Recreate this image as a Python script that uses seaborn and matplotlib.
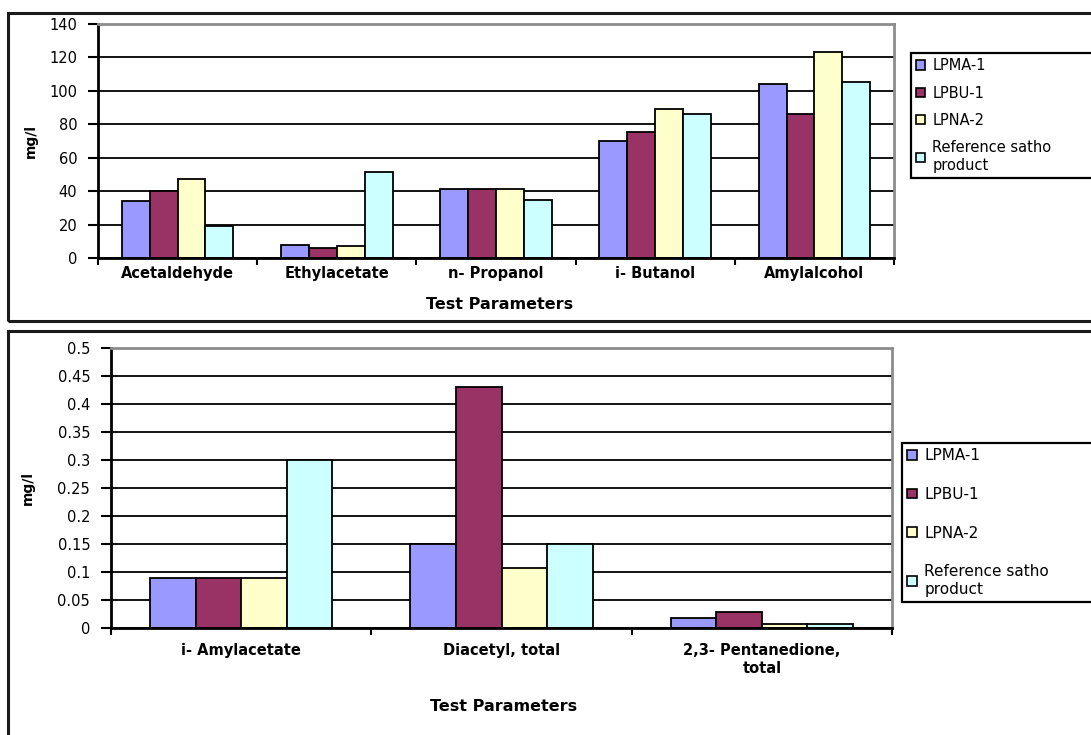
import numpy as np
import pandas as pd
import matplotlib
matplotlib.use("Agg")
import matplotlib.pyplot as plt
from matplotlib.patches import Rectangle
from matplotlib.ticker import FuncFormatter
import seaborn as sns

# Samples (legend entries) and their fill colours
samples = ["LPMA-1", "LPBU-1", "LPNA-2", "Reference satho\nproduct"]
colors = ["#9999FF", "#993366", "#FFFFCC", "#CCFFFF"]

# Upper panel: major volatile compounds (mg/l)
major_params = ["Acetaldehyde", "Ethylacetate", "n- Propanol", "i- Butanol", "Amylalcohol"]
lpma1_major = [34, 7.5, 41, 70, 104]
lpbu1_major = [40, 6, 41, 75.5, 86]
lpna2_major = [47, 7, 41, 89, 123]
ref_major = [19, 51.5, 35, 86, 105.5]

# Lower panel: minor volatile compounds (mg/l)
minor_params = ["i- Amylacetate", "Diacetyl, total", "2,3- Pentanedione,\ntotal"]
lpma1_minor = [0.09, 0.15, 0.018]
lpbu1_minor = [0.09, 0.43, 0.028]
lpna2_minor = [0.09, 0.107, 0.007]
ref_minor = [0.30, 0.15, 0.007]

major_ticks = [0, 20, 40, 60, 80, 100, 120, 140]
minor_ticks = [0, 0.05, 0.1, 0.15, 0.2, 0.25, 0.3, 0.35, 0.4, 0.45, 0.5]

sns.set_theme(style="ticks")
plt.rcParams["font.family"] = ["DejaVu Sans"]
plt.rcParams["text.color"] = "black"

W, H = 1091, 735
fig = plt.figure(figsize=(W / 100, H / 100), dpi=100)


def fx(px):
    return px / W


def fy(py):
    return 1 - py / H


def long_frame(params, series):
    rows = []
    for name, vals in zip(samples, series):
        for p, v in zip(params, vals):
            rows.append({"param": p, "sample": name, "value": v})
    return pd.DataFrame(rows)


def draw_panel(box, params, series, ticks, fmt, tickpad, catpad, ylab_xy, xlab_xy,
               legend_top, legend_left, labelspacing, legend_size):
    left, top, right, bottom = box
    ax = fig.add_axes([fx(left), fy(bottom), fx(right - left), (bottom - top) / H])
    df = long_frame(params, series)
    sns.barplot(data=df, x="param", y="value", hue="sample", order=params,
                hue_order=samples, palette=colors, saturation=1, width=0.7, gap=0,
                edgecolor="black", linewidth=1.3, errorbar=None, ax=ax)
    n = len(params)
    ax.set_xlim(-0.5, n - 0.5)
    ax.set_ylim(ticks[0], ticks[-1])
    ax.set_yticks(ticks)
    ax.yaxis.set_major_formatter(FuncFormatter(fmt))
    ax.tick_params(axis="y", direction="out", length=7, width=1.5, color="black",
                   pad=tickpad, labelsize=10.5, labelcolor="black")
    # category boundaries carry the tick marks, centres carry the labels
    ax.set_xticks(np.arange(n + 1) - 0.5)
    ax.set_xticklabels([""] * (n + 1))
    ax.set_xticks(np.arange(n), minor=True)
    ax.set_xticklabels(params, minor=True, fontweight="bold", fontsize=10.5)
    ax.tick_params(axis="x", which="major", direction="out", length=5, width=1.5,
                   color="black")
    ax.tick_params(axis="x", which="minor", length=0, pad=catpad, labelcolor="black")
    ax.yaxis.grid(True, color="black", linewidth=1.3)
    ax.set_axisbelow(True)
    for side in ("left", "bottom"):
        ax.spines[side].set_color("black")
        ax.spines[side].set_linewidth(2)
    for side in ("top", "right"):
        ax.spines[side].set_visible(True)
        ax.spines[side].set_color("#8c8c8c")
        ax.spines[side].set_linewidth(2)
    ax.set_ylabel("mg/l", fontsize=10, fontweight="bold", color="black")
    ax.yaxis.set_label_coords(*ylab_xy)
    ax.set_xlabel("Test Parameters", fontsize=11.5, fontweight="bold", color="black")
    ax.xaxis.set_label_coords(*xlab_xy)
    ax.xaxis.label.set_va("center")
    sns.move_legend(ax, "upper left",
                    bbox_to_anchor=(fx(legend_left), fy(legend_top), 0.3, 0.0),
                    bbox_transform=fig.transFigure, mode="expand", title=None,
                    frameon=True, fancybox=False, shadow=False, fontsize=legend_size,
                    handlelength=0.6, handleheight=0.6, handletextpad=0.5,
                    labelspacing=labelspacing, borderaxespad=0, borderpad=0.35)
    leg = ax.get_legend()
    leg.get_frame().set_edgecolor("black")
    leg.get_frame().set_linewidth(1.6)
    leg.get_frame().set_alpha(1)
    for h in leg.legend_handles:
        h.set_edgecolor("black")
        h.set_linewidth(1.2)
    return ax


num_fmt = lambda v, _: f"{v:g}"

draw_panel((98, 24, 894, 258), major_params,
           [lpma1_major, lpbu1_major, lpna2_major, ref_major],
           major_ticks, num_fmt, tickpad=8, catpad=6,
           ylab_xy=(-0.076, 0.5), xlab_xy=(0.505, -0.2),
           legend_top=53, legend_left=911, labelspacing=0.85, legend_size=10.5)

draw_panel((111, 348, 892, 628), minor_params,
           [lpma1_minor, lpbu1_minor, lpna2_minor, ref_minor],
           minor_ticks, num_fmt, tickpad=8, catpad=11,
           ylab_xy=(-0.097, 0.5), xlab_xy=(0.503, -0.28),
           legend_top=443, legend_left=902, labelspacing=1.55, legend_size=11)

# frames around each chart
for (x0, y0, y1) in [(8, 13, 321), (8, 331, 760)]:
    fig.patches.append(Rectangle((fx(x0), fy(y1)), fx(1200 - x0), (y1 - y0) / H,
                                 transform=fig.transFigure, fill=False,
                                 edgecolor="#1a1a1a", linewidth=2.2))

fig.savefig("out.png", dpi=100, facecolor="white")
